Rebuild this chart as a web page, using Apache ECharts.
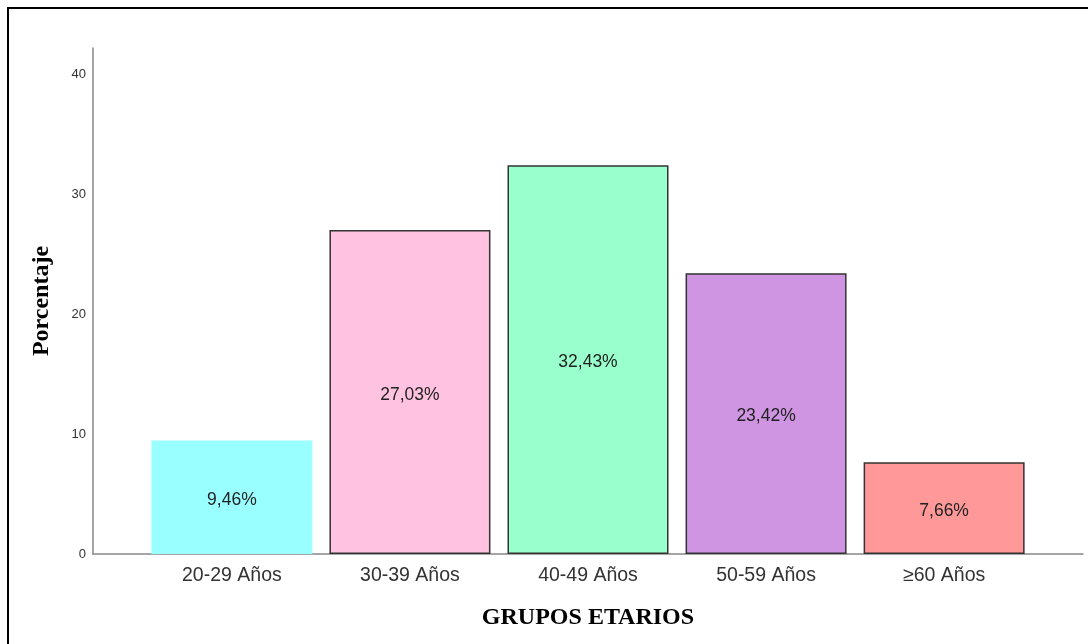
<!DOCTYPE html>
<html>
<head>
	<meta charset="UTF-8">
	<title>Grupos etarios</title>
	<style type="text/css">
		body {
			margin: 0;
			overflow: hidden;
			background: #fff;
		}
		#marco {
			position: absolute;
			left: 7px;
			top: 7px;
			width: 2000px;
			height: 2000px;
			border: 2px solid #000;
			pointer-events: none;
		}
		#grafico {
			position: absolute;
			left: 0;
			top: 0;
			width: 1088px;
			height: 644px;
		}
	</style>
</head>
<body>
	<div id="grafico"></div>
	<div id="marco"></div>
	<script src="https://cdn.jsdelivr.net/npm/echarts@6/dist/echarts.min.js"></script>
	<script>
		// grupos de edad
		var grupos = ['20-29 Años', '30-39 Años', '40-49 Años', '50-59 Años', '≥60 Años'];
		// porcentaje de cada grupo
		var porcentajes = [9.46, 27.03, 32.43, 23.42, 7.66];
		// colores de barra
		var colores = ['#99FFFF', '#FFC2E1', '#99FFCC', '#CF95E3', '#FF9999'];
		var bordes = [0, 1.5, 1.5, 1.5, 1.5];
		var ticksY = [0, 10, 20, 30, 40];

		var chart = echarts.init(document.getElementById('grafico'));

		var datos = [];
		for (var i = 0; i < grupos.length; i++) {
			datos.push({
				value: [i + 1, porcentajes[i]],
				itemStyle: {
					color: colores[i],
					borderColor: '#333',
					borderWidth: bordes[i]
				}
			});
		}

		var option = {
			animation: false,
			grid: {
				left: 93,
				right: 5,
				top: 48,
				bottom: 90
			},
			xAxis: {
				type: 'value',
				min: 0.22,
				max: 5.78,
				name: 'GRUPOS ETARIOS',
				nameLocation: 'middle',
				nameGap: 52,
				nameTextStyle: {
					fontFamily: 'Liberation Serif',
					fontWeight: 'bold',
					fontSize: 24,
					color: '#000'
				},
				splitLine: { show: false },
				axisTick: { show: false },
				axisLine: { lineStyle: { color: '#888', width: 1.5 } },
				axisLabel: {
					customValues: [1, 2, 3, 4, 5],
					margin: 12,
					fontFamily: 'Liberation Sans',
					fontSize: 19.5,
					color: '#333',
					formatter: function (v) {
						return grupos[Math.round(v) - 1] || '';
					}
				}
			},
			yAxis: {
				type: 'value',
				min: 0,
				max: 42.2,
				name: 'Porcentaje',
				nameLocation: 'middle',
				nameGap: 39,
				nameTextStyle: {
					fontFamily: 'Liberation Serif',
					fontWeight: 'bold',
					fontSize: 24,
					color: '#000'
				},
				splitLine: { show: false },
				axisTick: { show: false },
				axisLine: { show: true, lineStyle: { color: '#888', width: 1.5 } },
				axisLabel: {
					customValues: ticksY,
					margin: 7,
					fontFamily: 'Liberation Sans',
					fontSize: 13,
					color: '#333'
				}
			},
			series: [
				{
					type: 'bar',
					barWidth: 161,
					data: datos,
					label: {
						show: true,
						position: 'inside',
						offset: [0, 3],
						fontFamily: 'Liberation Sans',
						fontSize: 17.5,
						color: '#222',
						formatter: function (p) {
							return p.value[1].toFixed(2).replace('.', ',') + '%';
						}
					}
				}
			]
		};
		chart.setOption(option);
	</script>
</body>
</html>
